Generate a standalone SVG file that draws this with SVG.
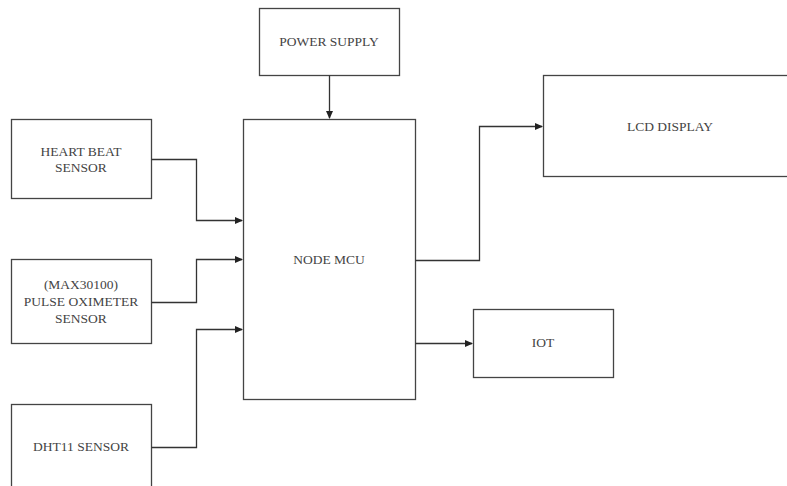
<svg xmlns="http://www.w3.org/2000/svg" width="787" height="486" viewBox="0 0 787 486">
<defs>
<style>
.box{fill:#fff;stroke:#444;stroke-width:1.3}
.lbl{font-size:13.5px;fill:#444;text-anchor:middle}
.con{fill:none;stroke:#333;stroke-width:1.3}
</style>
<marker id="arr" markerWidth="8" markerHeight="8" refX="7" refY="4" orient="auto" markerUnits="userSpaceOnUse">
<path d="M0,0.5 L8,4 L0,7.5 Z" fill="#222"/>
</marker>
</defs>
<rect width="787" height="486" fill="#fff"/>
<g font-family="Liberation Serif, DejaVu Serif, serif">
<g id="heart"><rect class="box" x="11.5" y="119.5" width="140" height="79"/><text class="lbl" x="81" y="156">HEART BEAT</text><text class="lbl" x="81" y="172">SENSOR</text></g>
<g id="pulse"><rect class="box" x="11.5" y="259.5" width="140" height="84"/><text class="lbl" x="81" y="289">(MAX30100)</text><text class="lbl" x="81" y="306">PULSE OXIMETER</text><text class="lbl" x="81" y="323">SENSOR</text></g>
<g id="dht"><rect class="box" x="11.5" y="404.5" width="140" height="90"/><text class="lbl" x="81" y="451">DHT11 SENSOR</text></g>
<g id="power"><rect class="box" x="259.5" y="8.5" width="140" height="67"/><text class="lbl" x="329" y="46">POWER SUPPLY</text></g>
<g id="mcu"><rect class="box" x="243.5" y="119.5" width="172" height="280"/><text class="lbl" x="329" y="264">NODE MCU</text></g>
<g id="lcd"><rect class="box" x="543.5" y="75.5" width="250" height="101"/><text class="lbl" x="670" y="131">LCD DISPLAY</text></g>
<g id="iot"><rect class="box" x="473.5" y="309.5" width="140" height="68"/><text class="lbl" x="543" y="347">IOT</text></g>
</g>
<g id="connectors">
<path class="con" d="M329.5,75.5 V118" marker-end="url(#arr)"/>
<path class="con" d="M151.5,159.5 H196.5 V220.5 H242" marker-end="url(#arr)"/>
<path class="con" d="M151.5,302.5 H196.5 V259.5 H242" marker-end="url(#arr)"/>
<path class="con" d="M151.5,447.5 H196.5 V329.5 H242" marker-end="url(#arr)"/>
<path class="con" d="M415.5,260.5 H479.5 V126.5 H542" marker-end="url(#arr)"/>
<path class="con" d="M415.5,343.5 H472" marker-end="url(#arr)"/>
</g>
</svg>
